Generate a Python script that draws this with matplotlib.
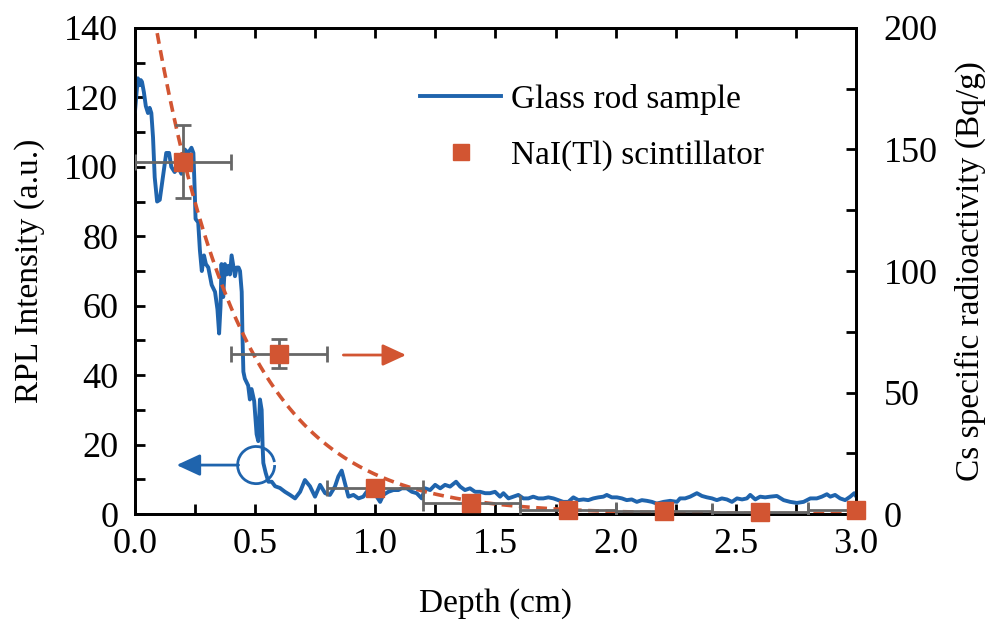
import numpy as np
import matplotlib
matplotlib.use("Agg")
import matplotlib.pyplot as plt
from matplotlib.patches import Arc
from matplotlib.ticker import MultipleLocator

plt.rcParams['font.family'] = ['Liberation Serif', 'DejaVu Serif']

# RPL intensity profile along the glass rod
rod_depth = [0.000, 0.006, 0.012, 0.019, 0.024, 0.029, 0.037, 0.045, 0.054, 0.061,
             0.068, 0.075, 0.082, 0.092, 0.103, 0.114, 0.130, 0.142, 0.151, 0.165,
             0.179, 0.193, 0.207, 0.221, 0.235, 0.243, 0.249, 0.252, 0.263, 0.270,
             0.278, 0.287, 0.295, 0.305, 0.319, 0.333, 0.343, 0.350, 0.356, 0.360,
             0.367, 0.374, 0.381, 0.388, 0.395, 0.402, 0.409, 0.416, 0.423, 0.431,
             0.437, 0.444, 0.447, 0.451, 0.457, 0.471, 0.478, 0.485, 0.496, 0.506,
             0.513, 0.520, 0.527, 0.531, 0.534, 0.544, 0.555, 0.569, 0.583, 0.603,
             0.624, 0.645, 0.666, 0.687, 0.707, 0.728, 0.749, 0.770, 0.791, 0.811,
             0.832, 0.846, 0.860, 0.874, 0.888, 0.909, 0.930, 0.950, 0.964, 0.985,
             1.006, 1.020, 1.033, 1.054, 1.075, 1.096, 1.110, 1.131, 1.152, 1.172,
             1.193, 1.207, 1.228, 1.249, 1.270, 1.290, 1.311, 1.336, 1.353, 1.373,
             1.394, 1.415, 1.436, 1.457, 1.477, 1.498, 1.519, 1.533, 1.554, 1.574,
             1.595, 1.616, 1.637, 1.657, 1.678, 1.699, 1.720, 1.741, 1.761, 1.782,
             1.803, 1.824, 1.845, 1.866, 1.886, 1.907, 1.928, 1.949, 1.963, 1.984,
             2.005, 2.026, 2.046, 2.067, 2.088, 2.109, 2.130, 2.151, 2.171, 2.199,
             2.227, 2.255, 2.268, 2.289, 2.310, 2.338, 2.359, 2.380, 2.401, 2.421,
             2.442, 2.463, 2.484, 2.505, 2.526, 2.546, 2.560, 2.581, 2.601, 2.622,
             2.643, 2.671, 2.699, 2.726, 2.754, 2.782, 2.810, 2.837, 2.858, 2.879,
             2.893, 2.913, 2.934, 2.955, 2.976, 2.993, 3.000]
rod_rpl = [116, 121, 125.5, 123.5, 125, 124.5, 121.5, 117.5, 115.5, 117,
           115.5, 108.5, 97, 90, 90.5, 96, 104, 104, 100, 98.5,
           100, 98, 105, 104, 105.5, 104, 92, 85, 84, 76,
           70, 74.5, 72, 71, 66, 64, 59, 52, 60, 72,
           62.5, 72, 69, 71.5, 69, 74.5, 71.5, 68.5, 71, 71,
           70, 64, 52, 41, 39, 37, 33, 36, 32.5, 23,
           21, 33, 30, 19.5, 14.7, 11.8, 9.3, 9.3, 8, 7.5,
           6.4, 5.5, 4.5, 6.4, 9.8, 8, 5, 8.4, 6, 5.5,
           7.9, 10.8, 12.5, 8.8, 5, 5.5, 4.5, 5, 6.4, 7.4,
           5, 3.5, 5.5, 6.4, 6.9, 6.9, 7.4, 7.4, 6.4, 6.0,
           4.5, 7.4, 6.9, 8.4, 7.4, 8.4, 7.9, 9.3, 7.9, 6.9,
           7.4, 6.4, 6.4, 6.0, 6.0, 6.4, 5.0, 6.0, 4.5, 5.0,
           5.5, 4.5, 4.5, 5.0, 4.5, 4.5, 4.8, 4.5, 4.0, 3.5,
           3.5, 4.8, 4.0, 4.2, 4.0, 4.5, 4.8, 5.0, 5.5, 4.8,
           4.8, 4.5, 4.0, 4.2, 3.5, 4.0, 3.8, 3.5, 3.0, 3.5,
           3.8, 3.5, 4.5, 4.5, 5.0, 6.0, 5.2, 4.8, 4.5, 4.0,
           4.5, 4.2, 3.5, 4.5, 4.2, 4.5, 5.5, 4.2, 5.0, 4.8,
           5.0, 5.2, 4.0, 3.5, 3.2, 3.5, 4.5, 4.5, 5.0, 5.7,
           5.0, 5.5, 4.5, 4.0, 5.0, 6.0, 5.2]

# NaI(Tl) measurements of sliced segments
nai_depth = [0.2, 0.6, 1.0, 1.4, 1.8, 2.2, 2.6, 3.0]
nai_activity = [145, 66, 10.8, 4.6, 1.6, 1.4, 0.9, 1.6]
nai_depth_err = [0.2, 0.2, 0.2, 0.2, 0.2, 0.2, 0.2, 0.2]
nai_activity_err = [15, 6, 1, 0.5, 0.3, 0.3, 0.2, 0.3]

# exponential fit of the activity profile: A * exp(-k * depth)
fit_amp = 255.0
fit_k = 2.75

blue = '#1F64AD'
red = '#D25532'
grey = '#676767'

fig = plt.figure(figsize=(9.89, 6.22), dpi=100)
ax = fig.add_axes([0.1365, 0.1736, 0.729, 0.7814])
ax2 = ax.twinx()

ax.plot(rod_depth, rod_rpl, color=blue, lw=2.8, label='Glass rod sample', zorder=3)

fit_x = np.linspace(0, 3.0, 300)
ax2.plot(fit_x, fit_amp * np.exp(-fit_k * fit_x), color=red, lw=2.6,
         linestyle=(0, (3.0, 1.8)), zorder=2)
ax2.errorbar(nai_depth, nai_activity, xerr=nai_depth_err, yerr=nai_activity_err,
             fmt='none', ecolor=grey, elinewidth=2.0, capsize=5.5, capthick=2.0, zorder=4)
sq, = ax2.plot(nai_depth, nai_activity, 's', color=red, ms=12.5, clip_on=False,
               zorder=5, label='NaI(Tl) scintillator')

# arrows pointing at the axis each series belongs to
head = '-|>,head_length=0.65,head_width=0.3'
ax.annotate('', xy=(0.173, 14.1), xytext=(0.431, 14.1),
            arrowprops=dict(arrowstyle=head, color=blue, lw=2.0,
                            mutation_scale=22, shrinkA=0, shrinkB=0))
ax.add_patch(Arc((0.504, 14.1), 0.154, 10.7, theta1=85, theta2=363,
                 color=blue, lw=2.0))
ax.annotate('', xy=(1.128, 45.8), xytext=(0.867, 45.8),
            arrowprops=dict(arrowstyle=head, color=red, lw=2.0,
                            mutation_scale=22, shrinkA=0, shrinkB=0))

ax.set_xlim(0, 3.0)
ax.set_ylim(0, 140)
ax2.set_ylim(0, 200)

ax.xaxis.set_major_locator(MultipleLocator(0.5))
ax.xaxis.set_minor_locator(MultipleLocator(0.25))
ax.yaxis.set_major_locator(MultipleLocator(20))
ax.yaxis.set_minor_locator(MultipleLocator(10))
ax2.yaxis.set_major_locator(MultipleLocator(50))
ax2.yaxis.set_minor_locator(MultipleLocator(25))
ax.xaxis.set_major_formatter(plt.FormatStrFormatter('%.1f'))

ax.tick_params(axis='x', which='both', direction='in', top=True, length=7, width=2.0,
               labelsize=26, pad=10)
ax.tick_params(axis='y', which='both', direction='in', length=7, width=2.0,
               labelsize=26, pad=12)
ax2.tick_params(axis='y', which='both', direction='in', length=7, width=2.0,
                labelsize=26, pad=20)
for a in (ax, ax2):
    for s in a.spines.values():
        s.set_linewidth(2.0)

ax.set_xlabel('Depth (cm)', fontsize=24, labelpad=20)
ax.set_ylabel('RPL Intensity (a.u.)', fontsize=24, labelpad=14)
ax2.set_ylabel('Cs specific radioactivity (Bq/g)', fontsize=24, labelpad=12)

line = ax.get_lines()[0]
ax2.legend([line, sq], ['Glass rod sample', 'NaI(Tl) scintillator'],
           loc='upper left', bbox_to_anchor=(0.395, 0.885), frameon=False,
           fontsize=24, handlelength=2.45, handletextpad=0.3, labelspacing=0.75,
           borderpad=0, borderaxespad=0, numpoints=1, markerscale=0.9)

fig.savefig('out.png', dpi=100)
